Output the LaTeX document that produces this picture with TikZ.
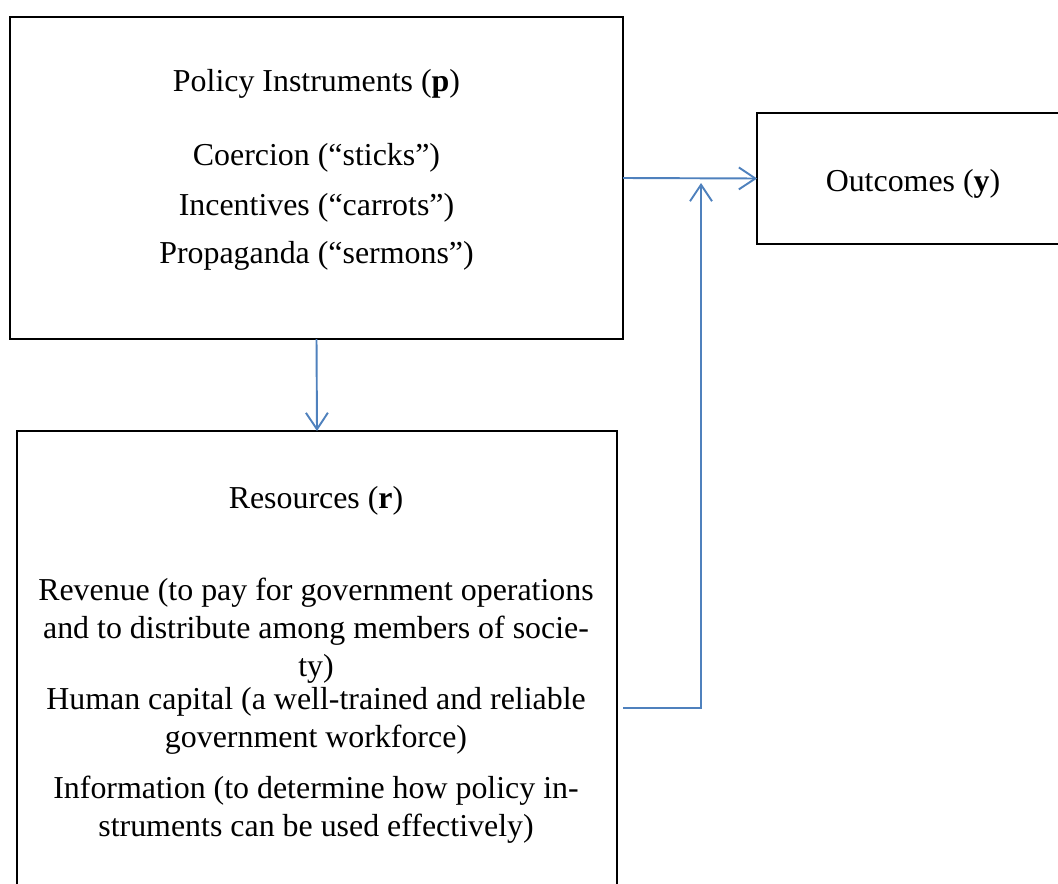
\documentclass[tikz,border=0pt]{standalone}
\usepackage{fontspec}
\setmainfont{Liberation Serif}
\usetikzlibrary{arrows.meta, calc}

\definecolor{linkblue}{RGB}{79,129,189}

\tikzset{
  box/.style={draw, line width=0.75pt, outer sep=0pt, inner sep=0pt},
  txt/.style={anchor=base, inner sep=0pt, align=center},
  link/.style={draw=linkblue, line width=0.7pt}
}

\begin{document}
\begin{tikzpicture}[x=0.3636pt, y=-0.3636pt, >={Straight Barb[length=6pt, width=8pt]},
    font=\fontsize{11.6}{13.8}\selectfont]
  \useasboundingbox (0,0) rectangle (1058,883);
  \clip (0,0) rectangle (1058,883);

  % the three boxes
  \node[box, minimum width=222.9pt, minimum height=117.1pt] (policy) at (316.5,178) {};
  \node[box, minimum width=117.4pt, minimum height=47.6pt] (outcomes) at (918.5,178.5) {};
  \node[box, minimum width=218.2pt, minimum height=177.8pt] (resources) at (317,675.5) {};

  % policy instruments
  \node[txt] (ptitle) at (316.5,92) {Policy Instruments (\textbf{p})};
  \node[txt] (pstick) at (316.5,165) {Coercion (“sticks”)};
  \node[txt] (pcarrot) at (316.5,215) {Incentives (“carrots”)};
  \node[txt] (psermon) at (316.5,263) {Propaganda (“sermons”)};

  % outcomes (base of multi-line nodes is the last line)
  \node[txt] (otitle) at (913,191) {Outcomes (\textbf{y})};

  % resources
  \node[txt] (rtitle) at (316,508) {Resources (\textbf{r})};
  \node[txt] (rrevenue) at (316,676) {Revenue (to pay for government operations\\and to distribute among members of socie-\\ty)};
  \node[txt] (rhuman) at (316,747) {Human capital (a well-trained and reliable\\government workforce)};
  \node[txt] (rinfo) at (316,836) {Information (to determine how policy in-\\struments can be used effectively)};

  % connectors
  \coordinate (bend) at (701,708);
  \coordinate (meet) at (701,183);
  \draw[link, ->] (policy.east) -- (outcomes.west);
  \draw[link, ->] (policy.south) -- (resources.north);
  \draw[link, ->] ($(resources.east |- bend)+(6,0)$) -- (bend) -- (meet);
\end{tikzpicture}
\end{document}
